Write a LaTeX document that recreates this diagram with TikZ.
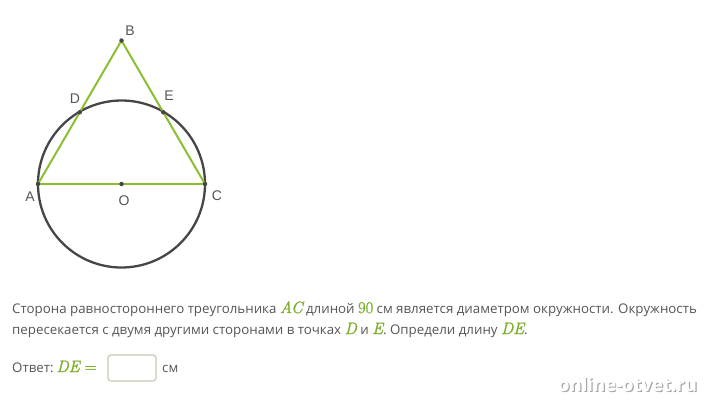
\documentclass[tikz,border=0pt]{standalone}
\usepackage{fontspec}
\usetikzlibrary{calc}
\setsansfont{Open Sans}
\newfontfamily\lblfont{Liberation Sans}
\newfontfamily\lmr[FakeBold=1.5]{Latin Modern Roman}
\definecolor{tri}{RGB}{140,190,50}
\definecolor{circ}{RGB}{70,70,70}
\definecolor{txt}{RGB}{85,85,85}
\definecolor{mgreen}{RGB}{125,175,45}
\definecolor{boxc}{RGB}{200,200,180}
\newcommand{\gm}[1]{\textcolor{mgreen}{\lmr\itshape\fontsize{16.5}{16}\selectfont #1}}
\newcommand{\gu}[1]{\textcolor{mgreen}{\lmr\fontsize{16.5}{16}\selectfont #1}}
\begin{document}
\begin{tikzpicture}[x=1pt,y=-1pt,
  pt/.style={circle,fill=circ,inner sep=0pt,minimum size=4.5pt},
  lbl/.style={text=txt,font=\lblfont\fontsize{14}{16}\selectfont,inner sep=0pt},
  para/.style={text=txt,font=\sffamily\fontsize{13.3}{16}\selectfont,inner sep=0pt,anchor=base west},
  side/.style={draw=tri,line width=2pt},
]
\useasboundingbox (0,0) rectangle (704,400);
% geometry
\coordinate (O) at (121.5,184);
\coordinate (A) at (38,184);
\coordinate (C) at (205,184);
\coordinate (B) at (121.5,40.5);
\coordinate (D) at ($(A)!0.5!(B)$);
\coordinate (E) at ($(C)!0.5!(B)$);
\draw[circ,line width=2.3pt] (O) circle (83.5);
\draw[side] (A) -- (B);
\draw[side] (B) -- (C);
\draw[side] (A) -- (C);
\node[pt] (pA) at (A) {};
\node[pt] (pB) at (B) {};
\node[pt] (pC) at (C) {};
\node[pt] (pO) at (O) {};
\node[pt] (pD) at (D) {};
\node[pt] (pE) at (E) {};
% labels
\node[lbl] (lB) at (130,31) {B};
\node[lbl] (lD) at (75,99) {D};
\node[lbl] (lE) at (169,96) {E};
\node[lbl] (lA) at (30,197) {A};
\node[lbl] (lO) at (124,201) {O};
\node[lbl] (lC) at (217,196) {C};
% text
\node[para] (t1) at (12,313) {Сторона равностороннего треугольника \gm{AC} длиной \gu{90} см является диаметром окружности. Окружность};
\node[para] (t2) at (12,334) {пересекается с двумя другими сторонами в точках \gm{D} и \gm{E}. Определи длину \gm{DE}.};
\node[para] (t3) at (12,372) {Ответ:\hspace{3pt}\gm{DE}\hspace{5pt}\gu{=}};
\draw[boxc,line width=1.2pt,rounded corners=3pt] (108,355) rectangle (156,381);
\node[para] (t4) at (162,372) {см};
% watermark
\node[text=black!35,font=\sffamily\bfseries\fontsize{18.5}{20}\selectfont,inner sep=0pt] (wms) at (628.8,386) {online-otvet.ru};
\node[text=white,font=\sffamily\bfseries\fontsize{18.5}{20}\selectfont,inner sep=0pt] (wm) at (627.6,384.8) {online-otvet.ru};
\end{tikzpicture}
\end{document}
